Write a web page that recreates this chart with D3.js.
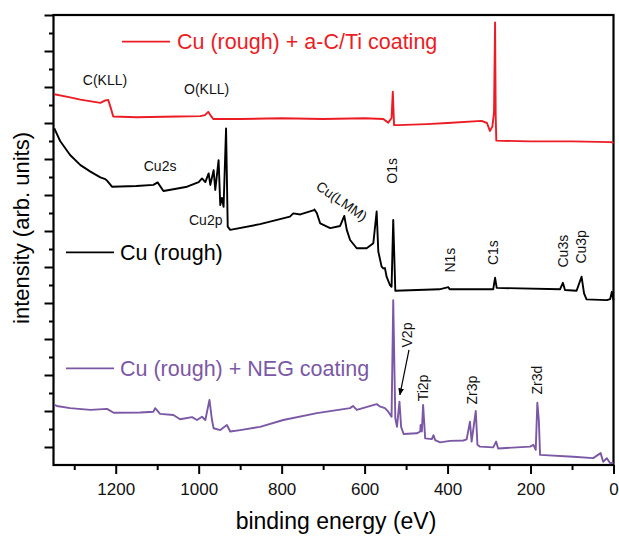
<!DOCTYPE html>
<html>
<head>
<meta charset="utf-8">
<script src="https://cdn.jsdelivr.net/npm/d3@7"></script>
<style>
  body { margin: 0; background: #fff; }
  svg text { font-family: "Liberation Sans", Arial, sans-serif; }
</style>
</head>
<body>
<svg class="chart" width="619" height="536"></svg>
<script>
// binding energy (eV), intensity (arb. units)
var acTiSpectrum = [
  [1348,10.30],[1310,10.21],[1285,10.15],[1237,10.06],[1225,10.13],[1218,10.14],[1212,9.92],
  [1206,9.68],[1150,9.66],[1050,9.68],[996,9.69],[985,9.72],[977,9.81],[970,9.69],[965,9.61],
  [900,9.61],[800,9.63],[700,9.61],[600,9.63],[555,9.61],[543,9.51],[535,9.64],[532,10.37],
  [529,9.44],[520,9.44],[450,9.47],[400,9.50],[318,9.56],[305,9.50],[298,9.28],[292,9.40],
  [288,9.80],[285.5,12.29],[284,9.70],[282.5,9.01],[200,8.99],[100,8.99],[5,8.97],[0,8.94]
];
var cuSpectrum = [
  [1348,9.35],[1334,9.00],[1310,8.61],[1285,8.33],[1261,8.15],[1237,7.99],[1225,7.94],[1221,7.90],
  [1209,7.73],[1150,7.75],[1109,7.78],[1099,7.85],[1085,7.61],[1061,7.66],[1028,7.73],[1000,7.86],
  [992,7.96],[984,7.86],[976,8.10],[972,7.78],[964,8.19],[960,7.64],[952,8.47],[948,7.22],
  [944,7.42],[940,7.17],[934,9.35],[930,6.62],[924,6.53],[852,6.69],[828,6.76],[780,6.90],
  [772,6.99],[755,6.96],[722,7.08],[721,7.10],[715,6.99],[707,6.71],[683,6.58],[659,6.64],
  [649,6.92],[643,6.53],[635,6.25],[619,6.02],[595,6.02],[579,6.16],[571,7.04],[567,5.93],
  [559,5.51],[555,5.46],[551,5.47],[547,5.23],[539,5.00],[535,4.95],[531,6.81],[526,4.84],
  [420,4.88],[398,4.94],[395,4.88],[290,4.88],[285.5,5.20],[281.5,4.92],[129,4.88],[122,5.06],
  [117,4.86],[89,4.84],[77,5.23],[71,4.77],[65,4.60],[16,4.58],[8,4.61],[4,4.81],[0,4.58]
];
var negSpectrum = [
  [1348,1.67],[1342,1.64],[1310,1.58],[1261,1.53],[1221,1.56],[1205,1.45],[1141,1.46],[1109,1.48],
  [1105,1.58],[1093,1.42],[1061,1.39],[1045,1.27],[1016,1.33],[1004,1.25],[992,1.34],[984,1.25],
  [974,1.81],[968,1.25],[964,1.02],[948,0.97],[932,1.11],[924,0.93],[900,0.97],[852,1.06],
  [796,1.25],[715,1.44],[635,1.58],[628,1.64],[619,1.53],[571,1.69],[562,1.62],[551,1.58],
  [543,1.48],[535,1.34],[531,4.58],[526,1.30],[522,1.06],[516,1.76],[512,1.06],[506,0.86],
  [474,0.88],[466,0.93],[465,1.11],[462,0.93],[459,1.67],[454,0.74],[438,0.72],[434,0.83],
  [430,0.69],[418,0.63],[394,0.67],[362,0.68],[354,0.71],[346,1.20],[342,0.65],[332,1.50],
  [328,0.56],[322,0.51],[290,0.49],[283,0.65],[278,0.46],[201,0.51],[193,0.56],[187.5,0.42],
  [183.6,1.73],[180,1.25],[177,0.28],[97,0.23],[49,0.19],[31,0.33],[25,0.09],[16,0.19],[8,0.05],[0,0.06]
];
var seriesNames = ["Cu (rough) + a-C/Ti coating", "Cu (rough)", "Cu (rough) + NEG coating"];
var seriesColors = ["#ec1c24", "#000000", "#7b58a5"];
var xMajorTicks = [1200, 1000, 800, 600, 400, 200, 0];
var xMinorTicks = [1300, 1100, 900, 700, 500, 300, 100];
var yMajorTicks = [0.5,1.5,2.5,3.5,4.5,5.5,6.5,7.5,8.5,9.5,10.5,11.5,12.5];
var yMinorTicks = [1,2,3,4,5,6,7,8,9,10,11,12];
// peak labels: [text, energy at label centre, intensity at label centre, rotation]
var peakLabels = [
  ["C(KLL)", 1226, 10.69, 0], ["O(KLL)", 981, 10.44, 0], ["Cu2s", 1093, 8.31, 0],
  ["Cu2p", 983, 6.81, 0], ["Cu(LMM)", 655, 7.33, 35], ["O1s", 533, 8.17, -90],
  ["N1s", 394, 5.69, -90], ["C1s", 290, 5.9, -90], ["Cu3s", 122, 5.94, -90],
  ["Cu3p", 77, 6.06, -90], ["V2p", 497, 3.61, -90], ["Ti2p", 460, 2.14, -90],
  ["Zr3p", 342, 2.08, -90], ["Zr3d", 183, 2.36, -90]
];

var svg = d3.select("svg.chart");
var x = d3.scaleLinear().domain([1350, 0]).range([53.5, 613.5]),
    y = d3.scaleLinear().domain([0, 12.5]).range([465, 15]);

// axes
var bottom = svg.append("g").attr("transform", "translate(0,465)");
bottom.call(d3.axisBottom(x).tickValues(xMajorTicks).tickSize(9).tickPadding(9).tickFormat(d3.format("d")));
bottom.append("g").call(d3.axisBottom(x).tickValues(xMinorTicks).tickSize(5).tickFormat(""));
bottom.selectAll("text").attr("font-size", 17).attr("fill", "#111");

var left = svg.append("g").attr("transform", "translate(53.5,0)");
left.call(d3.axisLeft(y).tickValues(yMajorTicks).tickSize(9).tickFormat(""));
left.append("g").call(d3.axisLeft(y).tickValues(yMinorTicks).tickSize(4.5).tickFormat(""));

svg.selectAll(".tick line").attr("stroke-width", 2);
svg.selectAll(".domain").remove();

svg.append("rect")
    .attr("x", 53.5).attr("y", 15)
    .attr("width", 560).attr("height", 450)
    .attr("fill", "none").attr("stroke", "#000").attr("stroke-width", 2.2);

svg.append("text")
    .attr("x", 336).attr("y", 529)
    .attr("text-anchor", "middle").attr("font-size", 23)
    .text("binding energy (eV)");
svg.append("text")
    .attr("transform", "translate(29,228) rotate(-90)")
    .attr("text-anchor", "middle").attr("font-size", 22)
    .text("intensity (arb. units)");

// spectra
var line = d3.line()
    .x(function(d){return x(d[0]);})
    .y(function(d){return y(d[1]);});
var spectra = [acTiSpectrum, cuSpectrum, negSpectrum];
svg.append("g").selectAll("path")
    .data(spectra)
    .enter().append("path")
    .attr("d", line)
    .attr("fill", "none")
    .attr("stroke", function(d,i){return seriesColors[i];})
    .attr("stroke-width", 1.9)
    .attr("stroke-linejoin", "round");

// legends sit next to their curves
var legendY = [41.7, 252.3, 368.3];
var legend = svg.append("g").selectAll("g")
    .data(seriesNames)
    .enter().append("g")
    .attr("transform", function(d,i){return "translate(0," + legendY[i] + ")";});
legend.append("line")
    .attr("x1", function(d,i){return i == 0 ? 122 : 66;})
    .attr("x2", function(d,i){return i == 0 ? 170 : 114;})
    .attr("stroke", function(d,i){return seriesColors[i];})
    .attr("stroke-width", 1.8);
legend.append("text")
    .attr("x", function(d,i){return i == 0 ? 177 : 120;})
    .attr("dy", "0.36em")
    .attr("font-size", 21.5)
    .attr("fill", function(d,i){return seriesColors[i];})
    .text(function(d){return d;});

// peak annotations
svg.append("g").selectAll("text")
    .data(peakLabels)
    .enter().append("text")
    .attr("transform", function(d){return "translate(" + x(d[1]) + "," + y(d[2]) + ") rotate(" + d[3] + ")";})
    .attr("text-anchor", "middle")
    .attr("dy", "0.35em")
    .attr("font-size", 14)
    .attr("fill", "#111")
    .text(function(d){return d[0];});

// arrow pointing at the V2p peak
svg.append("defs").append("marker")
    .attr("id", "head").attr("viewBox", "0 0 10 10")
    .attr("refX", 9).attr("refY", 5)
    .attr("markerWidth", 6).attr("markerHeight", 6)
    .attr("orient", "auto")
    .append("path").attr("d", "M0,1L10,5L0,9Z").attr("fill", "#000");
svg.append("line")
    .attr("x1", x(493)).attr("y1", y(3.2))
    .attr("x2", x(515)).attr("y2", y(1.95))
    .attr("stroke", "#000").attr("stroke-width", 1.2)
    .attr("marker-end", "url(#head)");
</script>
</body>
</html>
